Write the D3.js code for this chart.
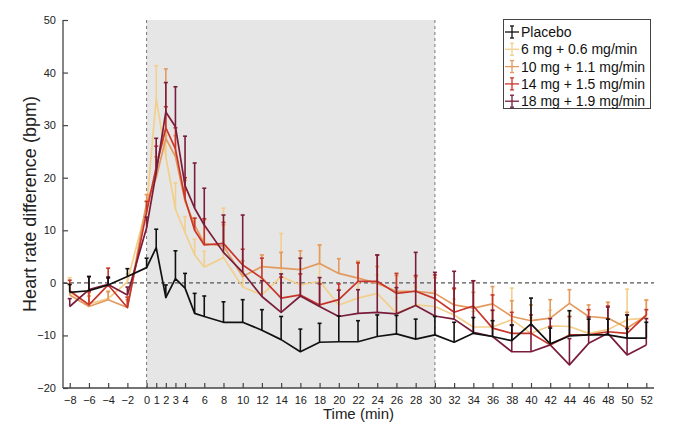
<!DOCTYPE html>
<html>
<head>
<meta charset="utf-8">
<script src="https://cdn.jsdelivr.net/npm/d3@7/dist/d3.min.js"></script>
<style>
  body { margin: 0; background: #fff; }
  svg { font-family: "Liberation Sans", Arial, Helvetica, sans-serif; }
</style>
</head>
<body>
<svg id="chart" width="680" height="438"></svg>
<script>
const times = [-8,-6,-4,-2,0,1,2,3,4,5,6,8,10,12,14,16,18,20,22,24,26,28,30,32,34,36,38,40,42,44,46,48,50,52];
const xTickValues = [-8,-6,-4,-2,0,1,2,3,4,6,8,10,12,14,16,18,20,22,24,26,28,30,32,34,36,38,40,42,44,46,48,50,52];
const yTickValues = [-20,-10,0,10,20,30,40,50];
const seriesNames = ["Placebo","6 mg + 0.6 mg/min","10 mg + 1.1 mg/min","14 mg + 1.5 mg/min","18 mg + 1.9 mg/min"];

const placebo = [-1.8,-1.5,-0.4,1.2,2.9,6.7,-2.8,0.8,-1.0,-5.8,-6.4,-7.5,-7.5,-9.0,-10.8,-13.1,-11.3,-11.2,-11.2,-10.2,-9.7,-10.7,-9.9,-11.3,-9.6,-10.2,-11.0,-7.8,-11.6,-10.1,-9.9,-9.9,-10.5,-10.5];
const placeboErr = [1.5,2.7,1.5,1.5,1.8,3.5,2.4,5.3,2.8,3.8,3.9,3.9,4.3,3.9,4.4,4.3,3.6,4.9,4.0,4.1,3.5,3.8,3.5,3.8,3.0,3.0,3.0,4.9,3.0,4.8,3.0,3.0,4.4,3.0];

const mg6 = [-1.8,-4.0,-3.0,0.2,14.5,35.0,24.0,14.0,9.6,5.3,3.0,4.8,-0.8,-2.3,1.2,-0.4,0.3,-4.2,-2.9,-2.0,-5.8,-4.2,-4.5,-6.1,-8.4,-8.4,-7.0,-9.6,-8.2,-8.3,-9.6,-8.9,-7.0,-6.7];
const mg6Err = [2.8,2.0,1.5,1.5,1.0,6.3,4.0,5.0,3.0,3.0,3.0,9.4,3.0,3.0,8.2,3.0,6.9,3.0,3.0,3.5,3.0,3.5,3.0,3.0,3.0,3.0,6.0,3.0,3.0,3.0,3.0,5.2,5.8,3.5];

const mg10 = [-2.3,-4.5,-3.2,-4.7,15.3,20.0,27.5,24.0,15.5,11.0,7.5,7.0,1.2,3.1,2.8,2.5,3.7,1.8,0.9,-0.1,-1.6,-1.6,-2.0,-4.2,-4.8,-4.0,-6.4,-7.2,-6.7,-3.9,-6.4,-6.7,-8.6,-6.3];
const mg10Err = [2.0,2.0,1.5,1.5,1.5,4.0,13.2,4.0,4.0,1.3,4.5,4.0,3.0,2.2,3.0,3.6,3.5,2.8,3.2,3.2,3.0,2.7,3.0,3.0,3.0,3.3,3.0,3.0,3.5,2.6,2.2,3.0,3.0,3.0];

const mg14 = [-1.5,-4.2,-0.4,-4.7,13.5,22.0,29.5,25.5,16.0,10.0,7.2,7.5,3.4,0.9,-2.9,-2.3,-4.2,-3.2,0.3,0.3,-2.0,-1.6,-3.0,-5.6,-4.4,-8.6,-9.6,-9.6,-11.8,-9.9,-9.9,-9.3,-9.6,-6.1];
const mg14Err = [2.0,2.5,3.2,2.0,2.0,4.0,4.0,4.0,4.0,2.3,5.0,4.0,3.0,3.8,4.0,4.0,4.0,3.0,3.5,5.0,3.8,3.0,4.5,4.6,4.8,6.3,4.0,3.5,3.5,3.5,4.8,4.9,3.5,1.0];

const mg18 = [-4.5,-1.3,-0.3,-2.3,10.5,21.0,32.5,29.7,18.5,14.2,11.0,5.8,2.0,-2.6,-5.6,-2.5,-4.5,-6.4,-5.8,-5.6,-5.9,-4.3,-6.3,-6.9,-9.4,-10.2,-13.1,-13.1,-11.8,-15.6,-11.5,-9.6,-13.7,-11.8];
const mg18Err = [1.5,2.5,1.2,1.5,2.0,6.5,5.6,7.6,9.4,8.6,7.0,7.1,10.9,3.0,7.3,7.2,5.5,5.0,4.5,10.9,5.0,10.1,8.3,9.1,9.8,5.0,5.0,5.0,5.0,5.0,5.0,5.0,5.0,5.0];

const colors = ["#111111","#f2cf8c","#e39a5e","#c8352a","#7a1d3a"];
const seriesValues = [placebo, mg6, mg10, mg14, mg18];
const seriesErrs = [placeboErr, mg6Err, mg10Err, mg14Err, mg18Err];

const svg = d3.select("#chart");
const mLeft = 63, mRight = 654, mTop = 20, mBottom = 388;
const x = d3.scaleLinear().domain([-8.7, 52.8]).range([mLeft, mRight]);
const y = d3.scaleLinear().domain([-20, 50]).range([mBottom, mTop]);

// shaded infusion period
svg.append("rect")
  .attr("x", x(0)).attr("y", y(50))
  .attr("width", x(30) - x(0)).attr("height", y(-20) - y(50))
  .attr("fill", "#e6e6e6");

// dashed references
[0, 30].forEach(t => {
  svg.append("line")
    .attr("x1", x(t)).attr("x2", x(t)).attr("y1", y(50)).attr("y2", y(-20))
    .attr("stroke", "#777").attr("stroke-width", 1).attr("stroke-dasharray", "3,3");
});
svg.append("line")
  .attr("x1", mLeft).attr("x2", mRight).attr("y1", y(0)).attr("y2", y(0))
  .attr("stroke", "#555").attr("stroke-width", 1.2).attr("stroke-dasharray", "4,3");

// axes
const xAxis = d3.axisBottom(x).tickValues(xTickValues).tickSize(-5).tickPadding(8).tickFormat(d3.format("d"));
const gx = svg.append("g").attr("transform", `translate(0,${mBottom})`).call(xAxis);
gx.select(".domain").attr("d", `M${mLeft},0H${mRight}`).attr("stroke", "#444").attr("stroke-width", 1.3);
gx.selectAll(".tick line").attr("stroke", "#444").attr("stroke-width", 1.2);
gx.selectAll("text").attr("font-size", 11).attr("fill", "#222").attr("font-family", "Liberation Sans, Arial, sans-serif");

const yAxis = d3.axisLeft(y).tickValues(yTickValues).tickSize(-5).tickPadding(7);
const gy = svg.append("g").attr("transform", `translate(${mLeft},0)`).call(yAxis);
gy.select(".domain").attr("d", `M0,${mTop}V${mBottom}`).attr("stroke", "#444").attr("stroke-width", 1.3);
gy.selectAll(".tick line").attr("stroke", "#444").attr("stroke-width", 1.2);
gy.selectAll("text").attr("font-size", 11).attr("fill", "#222").attr("font-family", "Liberation Sans, Arial, sans-serif");

svg.append("text").attr("x", (mLeft + mRight) / 2).attr("y", 419)
  .attr("text-anchor", "middle").attr("font-size", 15).attr("fill", "#222").text("Time (min)");
svg.append("text").attr("transform", `translate(36,${(mTop + mBottom) / 2}) rotate(-90)`)
  .attr("text-anchor", "middle").attr("font-size", 18).attr("fill", "#222").text("Heart rate difference (bpm)");

// series (draw colored first, darkest last; placebo on top)
const order = [1, 2, 3, 4, 0];
const line = d3.line().x(d => x(d.t)).y(d => y(d.v));
order.forEach(i => {
  const data = times.map((t, k) => ({t, v: seriesValues[i][k], e: seriesErrs[i][k]}));
  const g = svg.append("g");
  g.selectAll("line.eb").data(data).join("line").attr("class", "eb")
    .attr("x1", d => x(d.t)).attr("x2", d => x(d.t))
    .attr("y1", d => y(d.v)).attr("y2", d => y(d.v + d.e))
    .attr("stroke", colors[i]).attr("stroke-width", 1.6);
  g.selectAll("line.cap").data(data).join("line").attr("class", "cap")
    .attr("x1", d => x(d.t) - 2).attr("x2", d => x(d.t) + 2)
    .attr("y1", d => y(d.v + d.e)).attr("y2", d => y(d.v + d.e))
    .attr("stroke", colors[i]).attr("stroke-width", 1.6);
  g.append("path").datum(data).attr("d", line)
    .attr("fill", "none").attr("stroke", colors[i]).attr("stroke-width", 1.7)
    .attr("stroke-linejoin", "round");
});

// legend
const lg = svg.append("g");
lg.append("rect").attr("x", 503.5).attr("y", 19.5).attr("width", 147).attr("height", 89)
  .attr("fill", "#fff").attr("stroke", "#444").attr("stroke-width", 1);
seriesNames.forEach((name, i) => {
  const cy = 32 + i * 17.3;
  lg.append("line").attr("x1", 505).attr("x2", 519).attr("y1", cy).attr("y2", cy)
    .attr("stroke", colors[i]).attr("stroke-width", 1.3);
  lg.append("line").attr("x1", 512).attr("x2", 512).attr("y1", cy - 6).attr("y2", cy + 6)
    .attr("stroke", colors[i]).attr("stroke-width", 1.3);
  lg.append("line").attr("x1", 510).attr("x2", 514).attr("y1", cy - 6).attr("y2", cy - 6)
    .attr("stroke", colors[i]).attr("stroke-width", 1.3);
  lg.append("line").attr("x1", 510).attr("x2", 514).attr("y1", cy + 6).attr("y2", cy + 6)
    .attr("stroke", colors[i]).attr("stroke-width", 1.3);
  lg.append("text").attr("x", 521).attr("y", cy + 5).attr("font-size", 14).attr("fill", "#111").text(name);
});
</script>
</body>
</html>
